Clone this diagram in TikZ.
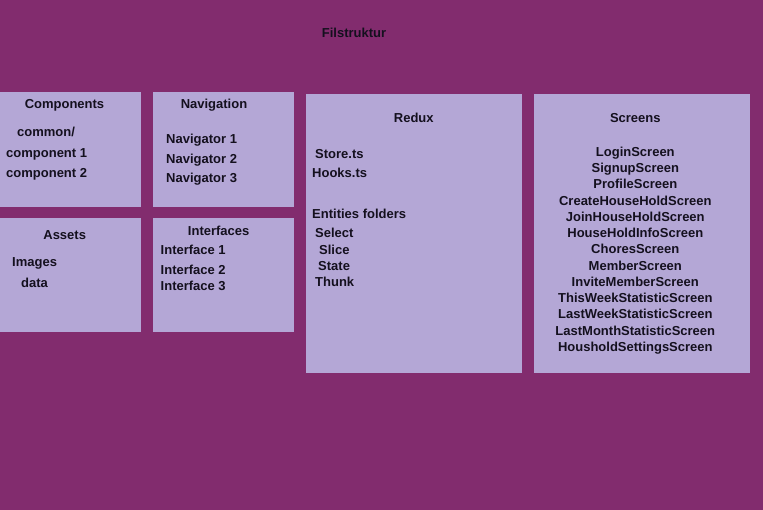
\documentclass[tikz,border=0pt]{standalone}
\usepackage{fontspec}
\setmainfont{Liberation Sans}
\definecolor{bgpurple}{RGB}{130,44,110}
\definecolor{boxlav}{RGB}{180,167,214}
\definecolor{txt}{RGB}{20,16,30}
\begin{document}
\begin{tikzpicture}[x=1pt,y=-1pt,
  panel/.style={fill=boxlav,draw=none},
  lbl/.style={font=\fontsize{13}{15}\selectfont\bfseries,text=txt,inner sep=0pt,text height=9.3pt,text depth=0pt},
  lw/.style={lbl,anchor=west},
  lc/.style={lbl,anchor=center}]
\fill[bgpurple] (0,0) rectangle (763,510);
\useasboundingbox (0,0) rectangle (763,510);
% panels
\path[panel] (0,92) rectangle (141,207);
\path[panel] (153,92) rectangle (294,207);
\path[panel] (0,218) rectangle (141,332);
\path[panel] (153,218) rectangle (294,332);
\path[panel] (306,94) rectangle (522,373);
\path[panel] (534,94) rectangle (750,373);
% title
\node[lc] (title) at (354,33) {Filstruktur};
% Components
\node[lc] (comp) at (64.5,104) {Components};
\node[lw] (common) at (17,132) {common/};
\node[lw] (c1) at (6,153) {component 1};
\node[lw] (c2) at (6,173) {component 2};
% Navigation
\node[lc] (nav) at (214,104) {Navigation};
\node[lw] (n1) at (166,139) {Navigator 1};
\node[lw] (n2) at (166,159) {Navigator 2};
\node[lw] (n3) at (166,178) {Navigator 3};
% Assets
\node[lc] (assets) at (64.7,235) {Assets};
\node[lw] (img) at (12,262) {Images};
\node[lw] (data) at (21,283) {data};
% Interfaces
\node[lc] (intf) at (218.7,231) {Interfaces};
\node[lw] (i1) at (160.5,250) {Interface 1};
\node[lw] (i2) at (160.5,270) {Interface 2};
\node[lw] (i3) at (160.5,286) {Interface 3};
% Redux
\node[lc] (redux) at (413.8,118) {Redux};
\node[lw] (store) at (315,154) {Store.ts};
\node[lw] (hooks) at (312,173) {Hooks.ts};
\node[lw] (ent) at (312,214) {Entities folders};
\node[lw] (sel) at (315,233) {Select};
\node[lw] (slice) at (319,250) {Slice};
\node[lw] (state) at (318,266) {State};
\node[lw] (thunk) at (315,282) {Thunk};
% Screens
\node[lc] (screens) at (635.3,118) {Screens};
\foreach \t [count=\i from 0] in {LoginScreen,SignupScreen,ProfileScreen,CreateHouseHoldScreen,JoinHouseHoldScreen,HouseHoldInfoScreen,ChoresScreen,MemberScreen,InviteMemberScreen,ThisWeekStatisticScreen,LastWeekStatisticScreen,LastMonthStatisticScreen,HousholdSettingsScreen}
  \node[lc] (s\i) at (635.3,151.7+16.25*\i) {\t};
\end{tikzpicture}
\end{document}
